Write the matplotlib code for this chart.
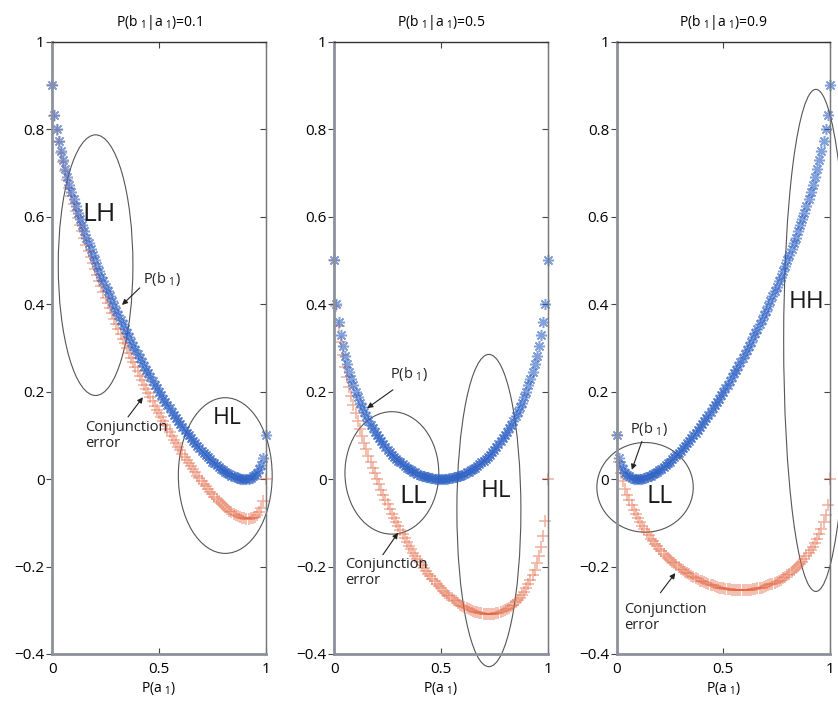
import matplotlib.pyplot as plt
from matplotlib.patches import Ellipse

plt.rcParams['font.family'] = ['Open Sans', 'DejaVu Sans']
plt.rcParams['mathtext.default'] = 'regular'

# P(a1) grid, step 0.01
p_a1 = [0.00, 0.01, 0.02, 0.03, 0.04, 0.05, 0.06, 0.07, 0.08, 0.09,
        0.10, 0.11, 0.12, 0.13, 0.14, 0.15, 0.16, 0.17, 0.18, 0.19,
        0.20, 0.21, 0.22, 0.23, 0.24, 0.25, 0.26, 0.27, 0.28, 0.29,
        0.30, 0.31, 0.32, 0.33, 0.34, 0.35, 0.36, 0.37, 0.38, 0.39,
        0.40, 0.41, 0.42, 0.43, 0.44, 0.45, 0.46, 0.47, 0.48, 0.49,
        0.50, 0.51, 0.52, 0.53, 0.54, 0.55, 0.56, 0.57, 0.58, 0.59,
        0.60, 0.61, 0.62, 0.63, 0.64, 0.65, 0.66, 0.67, 0.68, 0.69,
        0.70, 0.71, 0.72, 0.73, 0.74, 0.75, 0.76, 0.77, 0.78, 0.79,
        0.80, 0.81, 0.82, 0.83, 0.84, 0.85, 0.86, 0.87, 0.88, 0.89,
        0.90, 0.91, 0.92, 0.93, 0.94, 0.95, 0.96, 0.97, 0.98, 0.99,
        1.00]

# P(b1|a1) = 0.1
pb1_01 = [0.9, 0.832, 0.8, 0.774, 0.75, 0.729, 0.71, 0.691, 0.673, 0.656,
          0.64, 0.624, 0.609, 0.594, 0.58, 0.566, 0.552, 0.539, 0.525, 0.513,
          0.5, 0.488, 0.475, 0.463, 0.452, 0.44, 0.429, 0.418, 0.407, 0.396,
          0.385, 0.375, 0.364, 0.354, 0.344, 0.334, 0.324, 0.314, 0.305, 0.295,
          0.286, 0.277, 0.268, 0.259, 0.25, 0.242, 0.233, 0.225, 0.216, 0.208,
          0.2, 0.192, 0.184, 0.177, 0.169, 0.162, 0.154, 0.147, 0.14, 0.133,
          0.126, 0.119, 0.113, 0.106, 0.1, 0.094, 0.088, 0.082, 0.076, 0.071,
          0.065, 0.06, 0.055, 0.05, 0.045, 0.04, 0.036, 0.031, 0.027, 0.024,
          0.02, 0.017, 0.013, 0.011, 0.008, 0.006, 0.004, 0.002, 0.001, 0.0,
          0.0, 0.0, 0.001, 0.003, 0.006, 0.009, 0.014, 0.022, 0.032, 0.048,
          0.1]
conj_01 = [0.9, 0.831, 0.798, 0.771, 0.746, 0.724, 0.704, 0.684, 0.665, 0.647,
           0.63, 0.613, 0.597, 0.581, 0.566, 0.551, 0.536, 0.522, 0.507, 0.494,
           0.48, 0.467, 0.453, 0.441, 0.428, 0.415, 0.403, 0.391, 0.379, 0.367,
           0.355, 0.344, 0.332, 0.321, 0.31, 0.299, 0.288, 0.277, 0.267, 0.256,
           0.246, 0.236, 0.226, 0.216, 0.206, 0.197, 0.187, 0.178, 0.168, 0.159,
           0.15, 0.141, 0.132, 0.124, 0.115, 0.107, 0.098, 0.09, 0.082, 0.074,
           0.066, 0.058, 0.051, 0.043, 0.036, 0.029, 0.022, 0.015, 0.008, 0.002,
           -0.005, -0.011, -0.017, -0.023, -0.029, -0.035, -0.04, -0.046, -0.051, -0.055,
           -0.06, -0.064, -0.069, -0.072, -0.076, -0.079, -0.082, -0.085, -0.087, -0.089,
           -0.09, -0.091, -0.091, -0.09, -0.088, -0.086, -0.082, -0.075, -0.066, -0.051,
           0.0]

# P(b1|a1) = 0.5
pb1_05 = [0.5, 0.401, 0.36, 0.329, 0.304, 0.282, 0.263, 0.245, 0.229, 0.214,
          0.2, 0.187, 0.175, 0.164, 0.153, 0.143, 0.133, 0.124, 0.116, 0.108,
          0.1, 0.093, 0.086, 0.079, 0.073, 0.067, 0.061, 0.056, 0.051, 0.046,
          0.042, 0.038, 0.034, 0.03, 0.026, 0.023, 0.02, 0.017, 0.015, 0.012,
          0.01, 0.008, 0.006, 0.005, 0.004, 0.003, 0.002, 0.001, 0.0, 0.0,
          0.0, 0.0, 0.0, 0.001, 0.002, 0.003, 0.004, 0.005, 0.006, 0.008,
          0.01, 0.012, 0.015, 0.017, 0.02, 0.023, 0.026, 0.03, 0.034, 0.038,
          0.042, 0.046, 0.051, 0.056, 0.061, 0.067, 0.073, 0.079, 0.086, 0.093,
          0.1, 0.108, 0.116, 0.124, 0.133, 0.143, 0.153, 0.164, 0.175, 0.187,
          0.2, 0.214, 0.229, 0.245, 0.263, 0.282, 0.304, 0.329, 0.36, 0.401,
          0.5]
conj_05 = [0.5, 0.395, 0.35, 0.314, 0.284, 0.257, 0.233, 0.21, 0.189, 0.169,
           0.15, 0.132, 0.115, 0.099, 0.083, 0.068, 0.053, 0.039, 0.026, 0.013,
           0.0, -0.012, -0.024, -0.036, -0.047, -0.058, -0.069, -0.079, -0.089, -0.099,
           -0.108, -0.117, -0.126, -0.135, -0.144, -0.152, -0.16, -0.168, -0.175, -0.183,
           -0.19, -0.197, -0.204, -0.21, -0.216, -0.222, -0.228, -0.234, -0.24, -0.245,
           -0.25, -0.255, -0.26, -0.264, -0.268, -0.272, -0.276, -0.28, -0.284, -0.287,
           -0.29, -0.293, -0.295, -0.298, -0.3, -0.302, -0.304, -0.305, -0.306, -0.307,
           -0.308, -0.309, -0.309, -0.309, -0.309, -0.308, -0.307, -0.306, -0.304, -0.302,
           -0.3, -0.297, -0.294, -0.291, -0.287, -0.282, -0.277, -0.271, -0.265, -0.258,
           -0.25, -0.241, -0.231, -0.22, -0.207, -0.193, -0.176, -0.156, -0.13, -0.095,
           0.0]

# P(b1|a1) = 0.9
pb1_09 = [0.1, 0.048, 0.032, 0.022, 0.014, 0.009, 0.006, 0.003, 0.001, 0.0,
          0.0, 0.0, 0.001, 0.002, 0.004, 0.006, 0.008, 0.011, 0.013, 0.017,
          0.02, 0.024, 0.027, 0.031, 0.036, 0.04, 0.045, 0.05, 0.055, 0.06,
          0.065, 0.071, 0.076, 0.082, 0.088, 0.094, 0.1, 0.106, 0.113, 0.119,
          0.126, 0.133, 0.14, 0.147, 0.154, 0.162, 0.169, 0.177, 0.184, 0.192,
          0.2, 0.208, 0.216, 0.225, 0.233, 0.242, 0.25, 0.259, 0.268, 0.277,
          0.286, 0.295, 0.305, 0.314, 0.324, 0.334, 0.344, 0.354, 0.364, 0.375,
          0.385, 0.396, 0.407, 0.418, 0.429, 0.44, 0.452, 0.463, 0.475, 0.488,
          0.5, 0.513, 0.525, 0.539, 0.552, 0.566, 0.58, 0.594, 0.609, 0.624,
          0.64, 0.656, 0.673, 0.691, 0.71, 0.729, 0.75, 0.774, 0.8, 0.832,
          0.9]
conj_09 = [0.1, 0.039, 0.014, -0.005, -0.022, -0.036, -0.048, -0.06, -0.071, -0.081,
           -0.09, -0.099, -0.107, -0.115, -0.122, -0.129, -0.136, -0.142, -0.149, -0.154,
           -0.16, -0.165, -0.171, -0.176, -0.18, -0.185, -0.189, -0.193, -0.197, -0.201,
           -0.205, -0.208, -0.212, -0.215, -0.218, -0.221, -0.224, -0.227, -0.229, -0.232,
           -0.234, -0.236, -0.238, -0.24, -0.242, -0.243, -0.245, -0.246, -0.248, -0.249,
           -0.25, -0.251, -0.252, -0.252, -0.253, -0.253, -0.254, -0.254, -0.254, -0.254,
           -0.254, -0.254, -0.253, -0.253, -0.252, -0.251, -0.25, -0.249, -0.248, -0.246,
           -0.245, -0.243, -0.241, -0.239, -0.237, -0.235, -0.232, -0.23, -0.227, -0.223,
           -0.22, -0.216, -0.213, -0.208, -0.204, -0.199, -0.194, -0.189, -0.183, -0.177,
           -0.17, -0.163, -0.155, -0.146, -0.136, -0.126, -0.114, -0.099, -0.082, -0.059,
           0.0]

titles = ['P(b $_1$|a $_1$)=0.1', 'P(b $_1$|a $_1$)=0.5', 'P(b $_1$|a $_1$)=0.9']
pb1_series = [pb1_01, pb1_05, pb1_09]
conj_series = [conj_01, conj_05, conj_09]
yticks = [-0.4, -0.2, 0, 0.2, 0.4, 0.6, 0.8, 1]
ytick_labels = ['\u22120.4', '\u22120.2', '0', '0.2', '0.4', '0.6', '0.8', '1']
xticks = [0, 0.5, 1]
xtick_labels = ['0', '0.5', '1']

# region ellipses: (cx, cy, width, height, label, label_x, label_y, fontsize)
regions = [
    [(0.203, 0.489, 0.35, 0.596, 'LH', 0.219, 0.606, 19),
     (0.811, 0.008, 0.44, 0.356, 'HL', 0.822, 0.14, 16.5)],
    [(0.27, 0.014, 0.44, 0.28, 'LL', 0.369, -0.041, 19),
     (0.725, -0.072, 0.30, 0.714, 'HL', 0.76, -0.028, 17.5)],
    [(0.133, -0.019, 0.452, 0.205, 'LL', 0.2, -0.039, 18),
     (0.934, 0.317, 0.302, 1.148, 'HH', 0.892, 0.405, 17.5)],
]
# annotation: text position (left, top), arrow start, arrow tip
pb1_notes = [((0.425, 0.478), (0.41, 0.437), (0.327, 0.398)),
             ((0.261, 0.261), (0.275, 0.204), (0.154, 0.162)),
             ((0.063, 0.135), (0.118, 0.086), (0.071, 0.021))]
conj_notes = [((0.153, 0.135), (0.355, 0.142), (0.425, 0.187)),
              ((0.05, -0.178), (0.228, -0.173), (0.299, -0.123)),
              ((0.034, -0.281), (0.205, -0.26), (0.275, -0.215))]

fig = plt.figure(figsize=(8.38, 7.09), dpi=100)
lefts = [0.0624, 0.3989, 0.7359]

for i in range(3):
    ax = fig.add_axes([lefts[i], 0.0776, 0.2545, 0.8636])
    ax.plot(p_a1, conj_series[i], linestyle='none', marker='+', markersize=8,
            markeredgewidth=1.1, color='#e2603a', alpha=0.5, clip_on=False)
    # asterisk marker like MATLAB '*'
    ax.plot(p_a1, pb1_series[i], linestyle='none', marker=(8, 2, 0), markersize=8,
            markeredgewidth=1.1, color='#2f62c4', alpha=0.6, clip_on=False)

    for cx, cy, w, h, lab, lx, ly, fs in regions[i]:
        ax.add_patch(Ellipse((cx, cy), w, h, fill=False, edgecolor='#555555',
                             linewidth=0.8, clip_on=False))
        ax.text(lx, ly, lab, fontsize=fs, ha='center', va='center', color='#1a1a1a')

    (tx, ty), start, tip = pb1_notes[i]
    ax.text(tx, ty, 'P(b $_1$)', fontsize=10.5, ha='left', va='top', color='#222222')
    ax.annotate('', xy=tip, xytext=start,
                arrowprops=dict(arrowstyle='-|>', color='#222222', lw=0.8,
                                mutation_scale=8, shrinkA=0, shrinkB=0))
    (tx, ty), start, tip = conj_notes[i]
    ax.text(tx, ty, 'Conjunction\nerror', fontsize=10.5, ha='left', va='top',
            linespacing=1.1, color='#222222')
    ax.annotate('', xy=tip, xytext=start,
                arrowprops=dict(arrowstyle='-|>', color='#222222', lw=0.8,
                                mutation_scale=8, shrinkA=0, shrinkB=0))

    ax.set_xlim(0, 1)
    ax.set_ylim(-0.4, 1)
    ax.set_xticks(xticks)
    ax.set_xticklabels(xtick_labels)
    ax.set_yticks(yticks)
    ax.set_yticklabels(ytick_labels)
    ax.tick_params(axis='x', direction='in', top=True, length=4, width=0.8,
                   labelsize=11, pad=6, color='#444444')
    ax.tick_params(axis='y', direction='out', right=False, length=4, width=0.8,
                   labelsize=11, pad=1.5, color='#444444')
    sec = ax.secondary_yaxis('right')
    sec.set_yticks(yticks)
    sec.tick_params(direction='in', length=4, width=0.8, labelright=False, color='#444444')
    sec.spines['right'].set_color('#777777')
    sec.spines['right'].set_linewidth(0.9)

    for side in ['left', 'bottom']:
        ax.spines[side].set_color('#8c919b')
        ax.spines[side].set_linewidth(2)
    ax.spines['top'].set_color('#333333')
    ax.spines['top'].set_linewidth(1)
    ax.spines['right'].set_color('#777777')
    ax.spines['right'].set_linewidth(0.9)

    ax.set_title(titles[i], fontsize=10, pad=11)
    ax.set_xlabel('P(a $_1$)', fontsize=10, labelpad=2)

fig.savefig('out.png', dpi=100)
